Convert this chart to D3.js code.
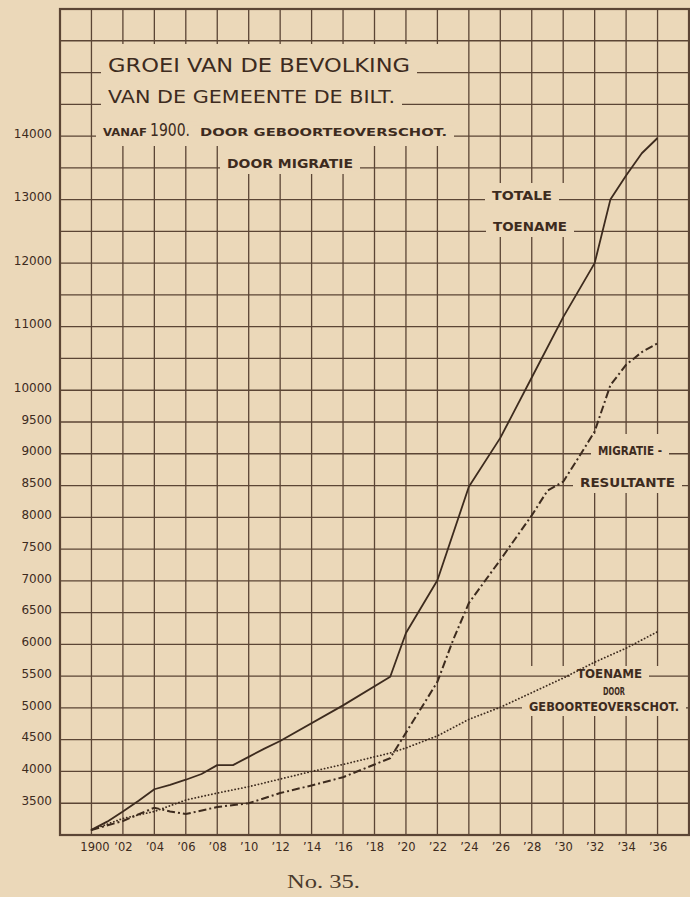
<!DOCTYPE html>
<html>
<head>
<meta charset="utf-8">
<script src="https://cdn.jsdelivr.net/npm/d3@7"></script>
<style>
  html, body { margin: 0; padding: 0; background: #ebd8b9; }
  svg { display: block; }
</style>
</head>
<body>
<svg id="chart" width="690" height="897"></svg>
<script>
// Totale toename (solid line)
const totalYears  = [1900, 1901, 1902, 1903, 1904, 1905, 1906, 1907, 1908, 1909, 1910, 1911, 1912, 1916, 1919, 1920, 1922, 1924, 1926, 1928, 1930, 1932, 1933, 1934, 1935, 1936];
const totalValues = [3080, 3210, 3370, 3540, 3720, 3790, 3870, 3960, 4100, 4100, 4230, 4360, 4480, 5040, 5490, 6180, 7010, 8480, 9250, 10200, 11150, 12000, 13000, 13380, 13730, 13970];

// Migratie-resultante (dash-dot line)
const migrationYears  = [1900, 1902, 1904, 1905, 1906, 1908, 1910, 1912, 1914, 1916, 1918, 1919, 1922, 1923, 1924, 1926, 1928, 1929, 1930, 1931, 1932, 1933, 1934, 1935, 1936];
const migrationValues = [3080, 3220, 3430, 3370, 3330, 3440, 3500, 3660, 3780, 3910, 4110, 4210, 5410, 6070, 6650, 7330, 8030, 8420, 8560, 8950, 9350, 10080, 10400, 10600, 10740];

// Toename door geboorteoverschot (dotted line)
const birthYears  = [1900, 1902, 1904, 1906, 1908, 1910, 1912, 1914, 1916, 1918, 1919, 1920, 1922, 1924, 1926, 1928, 1930, 1932, 1934, 1936];
const birthValues = [3080, 3260, 3370, 3550, 3660, 3760, 3880, 4000, 4110, 4230, 4290, 4370, 4560, 4820, 5010, 5240, 5470, 5720, 5940, 6200];

// Axis labels
const xTickYears  = [1900, 1902, 1904, 1906, 1908, 1910, 1912, 1914, 1916, 1918, 1920, 1922, 1924, 1926, 1928, 1930, 1932, 1934, 1936];
const xTickLabels = ["1900", "’02", "’04", "’06", "’08", "’10", "’12", "’14", "’16", "’18", "’20", "’22", "’24", "’26", "’28", "’30", "’32", "’34", "’36"];
const yTickValues = [3500, 4000, 4500, 5000, 5500, 6000, 6500, 7000, 7500, 8000, 8500, 9000, 9500, 10000, 11000, 12000, 13000, 14000];

const paper = "#ebd8b9";
const ink = "#3d2b1e";
const gridInk = "#5b4535";
const handFont = "'DejaVu Sans', sans-serif";

const svg = d3.select("#chart");
svg.append("rect").attr("width", 690).attr("height", 897).attr("fill", paper);

const x = d3.scaleLinear().domain([1898, 1938]).range([60, 689]);
const y = d3.scaleLinear().domain([3000, 16000]).range([835, 9]);

// vertical rules, one every two years
const gridYears = d3.range(1900, 1938, 2);
svg.append("g").selectAll("line").data(gridYears).join("line")
  .attr("x1", d => x(d)).attr("x2", d => x(d))
  .attr("y1", y(16000)).attr("y2", y(3000))
  .attr("stroke", gridInk).attr("stroke-width", 1.3);

// open paper where the lettering interrupts the vertical rules
const clearings = [
  [95, 44, 455, 146],
  [222, 146, 362, 174],
  [495, 183, 570, 237],
  [585, 434, 684, 493],
  [525, 666, 684, 716]
];
svg.append("g").selectAll("rect").data(clearings).join("rect")
  .attr("x", d => d[0]).attr("y", d => d[1])
  .attr("width", d => d[2] - d[0]).attr("height", d => d[3] - d[1])
  .attr("fill", paper);

// horizontal rules, one every 500 inhabitants
const gridValues = d3.range(3500, 16000, 500);
svg.append("g").selectAll("line").data(gridValues).join("line")
  .attr("x1", x(1898)).attr("x2", x(1938))
  .attr("y1", d => y(d)).attr("y2", d => y(d))
  .attr("stroke", gridInk).attr("stroke-width", 1.3);

// lettering that sits on the rules, each with a cleared strip behind it
const lettering = [
  { t: "GROEI VAN DE BEVOLKING",   x: 108, w: 302, v: 15000, dy: -1, s: 19, bold: false },
  { t: "VAN DE GEMEENTE DE BILT.", x: 108, w: 287, v: 14500, dy: -1, s: 18, bold: false },
  { t: "VANAF",                    x: 103, w: 44,  v: 14000, dy: 0,  s: 10, bold: true },
  { t: "1900.",                    x: 150, w: 40,  v: 14000, dy: 0,  s: 17, bold: false },
  { t: "DOOR GEBOORTEOVERSCHOT.",  x: 200, w: 247, v: 14000, dy: 0,  s: 11, bold: true },
  { t: "DOOR MIGRATIE",            x: 227, w: 126, v: 13500, dy: 0,  s: 12, bold: true },
  { t: "TOTALE",                   x: 492, w: 60,  v: 13000, dy: 0,  s: 13, bold: true },
  { t: "TOENAME",                  x: 493, w: 74,  v: 12500, dy: 0,  s: 13, bold: true },
  { t: "MIGRATIE -",               x: 598, w: 64,  v: 9000,  dy: 1,  s: 13, bold: true },
  { t: "RESULTANTE",               x: 580, w: 95,  v: 8500,  dy: 1,  s: 13, bold: true },
  { t: "TOENAME",                  x: 577, w: 65,  v: 5500,  dy: 2,  s: 12, bold: true },
  { t: "DOOR",                     x: 603, w: 22,  v: 5250,  dy: 3,  s: 10, bold: true },
  { t: "GEBOORTEOVERSCHOT.",       x: 529, w: 150, v: 5000,  dy: 3,  s: 11.5, bold: true }
];

const lg = svg.append("g");
lg.selectAll("rect").data(lettering).join("rect")
  .attr("x", d => d.x - 7)
  .attr("y", d => y(d.v) + d.dy - 0.75 * d.s - 2)
  .attr("width", d => Math.min(d.w + 14, 686 - (d.x - 7)))
  .attr("height", d => 0.75 * d.s + 5)
  .attr("fill", paper);
lg.selectAll("text").data(lettering).join("text")
  .attr("x", d => d.x)
  .attr("y", d => y(d.v) + d.dy)
  .attr("textLength", d => d.w)
  .attr("lengthAdjust", "spacingAndGlyphs")
  .attr("font-family", handFont)
  .attr("font-size", d => d.s)
  .attr("font-weight", d => d.bold ? "bold" : "normal")
  .attr("fill", ink)
  .text(d => d.t);

// frame
svg.append("rect")
  .attr("x", x(1898)).attr("y", y(16000))
  .attr("width", x(1938) - x(1898)).attr("height", y(3000) - y(16000))
  .attr("fill", "none").attr("stroke", gridInk).attr("stroke-width", 2.2);

// axes
const xAxis = svg.append("g")
  .attr("transform", `translate(0,${y(3000)})`)
  .call(d3.axisBottom(x).tickValues(xTickYears)
    .tickFormat((d, i) => xTickLabels[i]).tickSize(0).tickPadding(8));
xAxis.select(".domain").remove();
xAxis.selectAll("text")
  .attr("font-family", handFont).attr("font-size", 11.5).attr("fill", ink)
  .attr("dx", (d, i) => i === 0 ? 3 : 0);

const yAxis = svg.append("g")
  .attr("transform", `translate(${x(1898)},0)`)
  .call(d3.axisLeft(y).tickValues(yTickValues).tickFormat(d3.format("d")).tickSize(0).tickPadding(8));
yAxis.select(".domain").remove();
yAxis.selectAll("text")
  .attr("font-family", handFont).attr("font-size", 12).attr("fill", ink)
  .attr("dy", "0.1em");

// series
const line = d3.line().x(d => x(d[0])).y(d => y(d[1]));
const pairs = (xs, vs) => xs.map((yr, i) => [yr, vs[i]]);

svg.append("path")
  .attr("d", line(pairs(birthYears, birthValues)))
  .attr("fill", "none").attr("stroke", ink).attr("stroke-width", 1.8)
  .attr("stroke-linecap", "round").attr("stroke-dasharray", "0.1,3.3");

svg.append("path")
  .attr("d", line(pairs(migrationYears, migrationValues)))
  .attr("fill", "none").attr("stroke", ink).attr("stroke-width", 2)
  .attr("stroke-dasharray", "8,3,2,3");

svg.append("path")
  .attr("d", line(pairs(totalYears, totalValues)))
  .attr("fill", "none").attr("stroke", ink).attr("stroke-width", 1.8)
  .attr("stroke-linejoin", "round");

// plate number
svg.append("text")
  .attr("x", 287).attr("y", 888)
  .attr("textLength", 73).attr("lengthAdjust", "spacingAndGlyphs")
  .attr("font-family", "'Liberation Serif', serif").attr("font-size", 19)
  .attr("fill", "#4a3a2c")
  .text("No. 35.");
</script>
</body>
</html>
